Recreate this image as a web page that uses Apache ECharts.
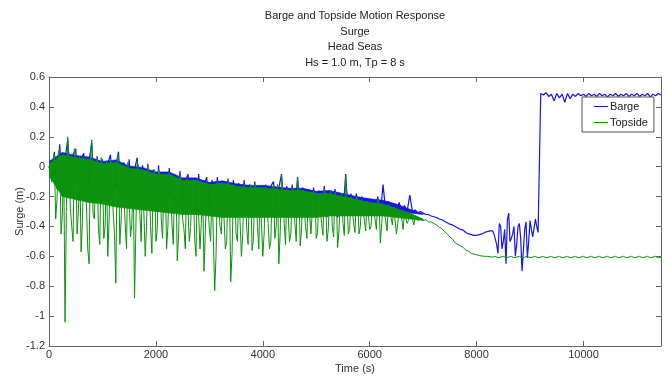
<!DOCTYPE html>
<html>
<head>
<meta charset="utf-8">
<script src="https://cdn.jsdelivr.net/npm/echarts@6/dist/echarts.min.js"></script>
<style>
  html, body { margin: 0; padding: 0; background: #fff; }
  #chart { width: 667px; height: 378px; }
</style>
</head>
<body>
<div id="chart"></div>
<script>
// Surge time histories, sampled every 50 s from t = 0 s to 11450 s
const sampleStep = 50;

const titleLines = [
  'Barge and Topside Motion Response',
  'Surge',
  'Head Seas',
  'Hs = 1.0 m, Tp = 8 s'
];

const seriesNames = ['Barge', 'Topside'];

const barge = [
  0.00, -0.05, 0.10, -0.15, 0.15, -0.20, 0.05, 0.18, -0.18, 0.08,
  0.12, -0.20, 0.05, 0.09, -0.18, 0.04, 0.16, -0.22, 0.07, -0.20,
  0.05, -0.22, 0.02, 0.08, -0.25, 0.00, 0.10, -0.25, 0.03, -0.25,
  0.05, -0.25, -0.02, 0.06, -0.25, 0.01, -0.28, 0.02, -0.28, -0.02,
  -0.28, 0.01, -0.28, -0.05, -0.30, -0.01, -0.30, -0.07, -0.30, -0.03,
  -0.30, -0.10, -0.05, -0.30, -0.09, -0.32, -0.05, -0.30, -0.12, -0.07,
  -0.32, -0.09, -0.30, -0.07, -0.32, -0.11, -0.30, -0.08, -0.32, -0.09,
  -0.32, -0.11, -0.33, -0.09, -0.32, -0.12, -0.33, -0.10, -0.32, -0.13,
  -0.34, -0.12, -0.32, -0.13, -0.10, -0.32, -0.14, -0.05, -0.32, -0.13,
  -0.33, -0.12, -0.32, -0.07, -0.33, -0.14, -0.32, -0.15, -0.33, -0.14,
  -0.34, -0.16, -0.32, -0.13, -0.34, -0.16, -0.33, -0.15, -0.34, -0.18,
  -0.32, -0.05, -0.33, -0.18, -0.33, -0.18, -0.32, -0.20, -0.32, -0.21,
  -0.33, -0.22, -0.31, -0.20, -0.32, -0.12, -0.30, -0.23, -0.30, -0.25,
  -0.30, -0.24, -0.30, -0.26, -0.30, -0.19, -0.30, -0.29, -0.31, -0.30,
  -0.31, -0.32, -0.32, -0.33, -0.335, -0.34, -0.35, -0.355, -0.365, -0.375,
  -0.385, -0.39, -0.40, -0.41, -0.42, -0.425, -0.44, -0.45, -0.455, -0.46,
  -0.46, -0.455, -0.45, -0.44, -0.435, -0.43, -0.43, -0.44, -0.58, -0.40,
  -0.50, -0.65, -0.31, -0.48, -0.40, -0.52, -0.38, -0.70, -0.42, -0.61,
  -0.36, -0.47, -0.35, -0.44, 0.49, 0.48, 0.495, 0.47, 0.485, 0.44,
  0.49, 0.46, 0.485, 0.43, 0.49, 0.455, 0.485, 0.47, 0.49, 0.475,
  0.485, 0.47, 0.49, 0.475, 0.485, 0.47, 0.49, 0.475, 0.485, 0.465,
  0.485, 0.475, 0.49, 0.47, 0.485, 0.475, 0.49, 0.47, 0.485, 0.475,
  0.49, 0.47, 0.485, 0.475, 0.49, 0.465, 0.485, 0.475, 0.49, 0.48
];

// Extra barge samples half-way between the 50 s samples, t = 8325 s to 9125 s
const bargeMidStart = 8325;
const bargeMid = [
  -0.45, -0.52, -0.38, -0.55, -0.42, -0.36, -0.50, -0.45, -0.60,
  -0.40, -0.48, -0.56, -0.37, -0.50, -0.42, -0.46, -0.40
];

const topside = [
  0.00, -0.10, 0.08, -0.22, 0.12, -0.32, -1.04, 0.20, -0.28, -0.50,
  0.10, -0.30, -0.57, 0.06, -0.25, -0.65, 0.18, -0.35, 0.05, -0.52,
  0.02, -0.40, -0.60, 0.05, -0.30, -0.78, 0.08, -0.35, 0.00, -0.55,
  0.02, -0.38, -0.88, 0.04, -0.32, -0.02, -0.60, 0.00, -0.40, -0.05,
  -0.50, -0.02, -0.35, -0.08, -0.55, -0.04, -0.38, -0.10, -0.63, -0.06,
  -0.35, -0.55, -0.08, -0.40, -0.12, -0.60, -0.08, -0.38, -0.70, -0.10,
  -0.42, -0.12, -0.83, -0.10, -0.40, -0.14, -0.55, -0.10, -0.77, -0.12,
  -0.45, -0.14, -0.60, -0.12, -0.42, -0.15, -0.56, -0.12, -0.40, -0.16,
  -0.60, -0.14, -0.38, -0.50, -0.12, -0.40, -0.65, -0.06, -0.38, -0.15,
  -0.50, -0.14, -0.38, -0.08, -0.53, -0.16, -0.40, -0.17, -0.45, -0.16,
  -0.48, -0.18, -0.38, -0.15, -0.50, -0.18, -0.40, -0.17, -0.54, -0.20,
  -0.38, -0.06, -0.45, -0.20, -0.38, -0.20, -0.45, -0.22, -0.36, -0.23,
  -0.42, -0.24, -0.35, -0.22, -0.51, -0.26, -0.36, -0.25, -0.34, -0.27,
  -0.45, -0.30, -0.35, -0.31, -0.38, -0.33, -0.35, -0.34, -0.36, -0.35,
  -0.36, -0.355, -0.37, -0.37, -0.38, -0.39, -0.405, -0.415, -0.435, -0.45,
  -0.47, -0.485, -0.51, -0.52, -0.53, -0.54, -0.56, -0.565, -0.58, -0.585,
  -0.59, -0.595, -0.598, -0.60, -0.60, -0.603, -0.605, -0.60, -0.61, -0.605,
  -0.60, -0.61, -0.605, -0.60, -0.61, -0.605, -0.60, -0.61, -0.605, -0.60,
  -0.61, -0.605, -0.60, -0.61, -0.605, -0.60, -0.61, -0.605, -0.60, -0.61,
  -0.605, -0.60, -0.61, -0.605, -0.60, -0.61, -0.605, -0.60, -0.61, -0.605,
  -0.60, -0.61, -0.605, -0.60, -0.61, -0.605, -0.60, -0.61, -0.605, -0.60,
  -0.61, -0.605, -0.60, -0.61, -0.605, -0.60, -0.61, -0.605, -0.60, -0.61,
  -0.605, -0.60, -0.61, -0.605, -0.60, -0.61, -0.605, -0.60, -0.61, -0.605
];

// Extra topside samples half-way between the 50 s samples, t = 25 s to 6975 s
const topsideMidStart = 25;
const topsideMid = [
  -0.05, 0.05, -0.35, 0.10, -0.45, 0.08, -0.30, 0.06, -0.40, 0.12,
  -0.45, 0.07, -0.38, 0.05, -0.55, 0.09, -0.32, 0.03, -0.42, 0.06,
  -0.48, 0.04, -0.35, 0.02, -0.45, 0.05, -0.52, 0.00, -0.38, 0.03,
  -0.47, -0.02, -0.42, 0.00, -0.50, -0.03, -0.40, -0.05, -0.58, -0.02,
  -0.42, -0.06, -0.48, -0.05, -0.40, -0.08, -0.52, -0.07, -0.45, -0.09,
  -0.42, -0.08, -0.50, -0.10, -0.48, -0.09, -0.55, -0.12, -0.44, -0.11,
  -0.50, -0.12, -0.60, -0.11, -0.45, -0.13, -0.50, -0.12, -0.58, -0.14,
  -0.50, -0.13, -0.45, -0.15, -0.52, -0.12, -0.48, -0.14, -0.55, -0.15,
  -0.45, -0.13, -0.55, -0.16, -0.48, -0.12, -0.45, -0.15, -0.52, -0.14,
  -0.45, -0.16, -0.50, -0.15, -0.42, -0.17, -0.48, -0.16, -0.44, -0.18,
  -0.44, -0.17, -0.46, -0.19, -0.42, -0.16, -0.47, -0.20, -0.43, -0.18,
  -0.46, -0.20, -0.42, -0.21, -0.44, -0.22, -0.40, -0.21, -0.43, -0.23,
  -0.40, -0.25, -0.42, -0.24, -0.38, -0.26, -0.43, -0.27, -0.39, -0.28,
  -0.38, -0.30, -0.42, -0.31, -0.36, -0.33, -0.39, -0.34, -0.36, -0.35
];

// Dense core of the wave-frequency oscillation (upper / lower envelope), every 250 s, 0-7000 s
const envelopeStep = 250;
const bargeCoreHigh = [
  0.035, 0.095, 0.075, 0.065, 0.035, 0.045, 0.005, -0.005, -0.035, -0.035,
  -0.075, -0.075, -0.105, -0.095, -0.115, -0.125, -0.125, -0.135, -0.145, -0.145,
  -0.165, -0.16, -0.18, -0.20, -0.215, -0.225, -0.25, -0.285, -0.315
];
const bargeCoreLow = [
  -0.05, -0.08, -0.10, -0.12, -0.12, -0.14, -0.16, -0.17, -0.19, -0.20,
  -0.22, -0.22, -0.24, -0.24, -0.25, -0.26, -0.26, -0.27, -0.27, -0.28,
  -0.28, -0.28, -0.29, -0.29, -0.30, -0.30, -0.31, -0.31, -0.32
];
const topsideCoreHigh = [
  0.02, 0.08, 0.06, 0.05, 0.02, 0.03, -0.01, -0.02, -0.05, -0.05,
  -0.09, -0.09, -0.12, -0.11, -0.13, -0.14, -0.14, -0.15, -0.16, -0.16,
  -0.18, -0.18, -0.20, -0.22, -0.24, -0.25, -0.28, -0.31, -0.35
];
const topsideCoreLow = [
  -0.06, -0.20, -0.22, -0.24, -0.25, -0.27, -0.28, -0.29, -0.30, -0.31,
  -0.32, -0.32, -0.33, -0.34, -0.34, -0.34, -0.34, -0.34, -0.34, -0.34,
  -0.34, -0.33, -0.33, -0.33, -0.33, -0.33, -0.34, -0.35, -0.36
];

const xRange = [0, 11450];
const yRange = [-1.2, 0.6];

const FONT = '"Liberation Sans", Arial, sans-serif';
const AXIS_COLOR = '#666';
const TEXT_COLOR = '#333';
const BARGE_COLOR = '#1414ee';
const TOPSIDE_COLOR = '#0d920d';

function toPairs(values, step, start) {
  return values.map((v, i) => [start + i * step, v]);
}

// Regular samples plus the in-between samples, in time order
function mergedSamples(values, mid, midStart) {
  return toPairs(values, sampleStep, 0)
    .concat(toPairs(mid, sampleStep, midStart))
    .sort((a, b) => a[0] - b[0]);
}

// Filled strip between a lower and an upper envelope, one quad per interval
function bandSeries(id, low, high, color, z) {
  const rows = low.map((lo, i) => [i * envelopeStep, lo, high[i]]);
  return {
    id: id,
    type: 'custom',
    silent: true,
    z: z,
    clip: true,
    data: rows,
    encode: { x: 0, y: [1, 2] },
    renderItem: function (params, api) {
      const i = params.dataIndex;
      if (i >= rows.length - 1) return null;
      const a = rows[i], b = rows[i + 1];
      const pts = [
        api.coord([a[0], a[2]]),
        api.coord([b[0], b[2]]),
        api.coord([b[0], b[1]]),
        api.coord([a[0], a[1]])
      ];
      return {
        type: 'polygon',
        shape: { points: pts },
        style: { fill: color, stroke: color, lineWidth: 0.6 }
      };
    }
  };
}

const plotCenterX = 355;

const chart = echarts.init(document.getElementById('chart'), null, { renderer: 'canvas' });

const boxAxisX = {
  type: 'value',
  min: xRange[0],
  max: xRange[1],
  interval: 2000,
  splitLine: { show: false },
  axisLine: { show: true, onZero: false, lineStyle: { color: AXIS_COLOR, width: 1 } },
  axisTick: { show: true, inside: true, length: 5, lineStyle: { color: AXIS_COLOR } }
};

const boxAxisY = {
  type: 'value',
  min: yRange[0],
  max: yRange[1],
  interval: 0.2,
  splitLine: { show: false },
  axisLine: { show: true, onZero: false, lineStyle: { color: AXIS_COLOR, width: 1 } },
  axisTick: { show: true, inside: true, length: 5, lineStyle: { color: AXIS_COLOR } }
};

chart.setOption({
  animation: false,
  backgroundColor: '#fff',
  textStyle: { fontFamily: FONT },
  grid: { left: 49, right: 6, top: 77, bottom: 32, containLabel: false, outerBoundsMode: 'none' },
  graphic: titleLines.map((line, i) => ({
    type: 'text',
    x: plotCenterX,
    y: 16 + i * 15.6,
    style: {
      text: line,
      font: '11px ' + FONT,
      fill: '#222',
      textAlign: 'center',
      textVerticalAlign: 'middle'
    }
  })),
  legend: {
    data: seriesNames,
    orient: 'vertical',
    left: 582,
    top: 97,
    padding: [4, 6, 4, 12],
    itemGap: 5,
    itemWidth: 14,
    itemHeight: 1,
    icon: 'rect',
    borderColor: '#555',
    borderWidth: 1,
    backgroundColor: '#fff',
    textStyle: { fontSize: 11, color: '#222', fontFamily: FONT, padding: [0, 0, 0, -3] }
  },
  xAxis: [
    Object.assign({}, boxAxisX, {
      position: 'bottom',
      name: 'Time (s)',
      nameLocation: 'middle',
      nameGap: 17,
      nameMoveOverlap: false,
      nameTextStyle: { fontSize: 11, color: TEXT_COLOR, fontFamily: FONT },
      axisLabel: {
        show: true, fontSize: 11, color: TEXT_COLOR, margin: 3, fontFamily: FONT,
        showMaxLabel: false,
        formatter: v => String(v)
      }
    }),
    Object.assign({}, boxAxisX, {
      position: 'top',
      axisLabel: { show: false }
    })
  ],
  yAxis: [
    Object.assign({}, boxAxisY, {
      position: 'left',
      name: 'Surge (m)',
      nameLocation: 'middle',
      nameGap: 24,
      nameMoveOverlap: false,
      nameTextStyle: { fontSize: 11, color: TEXT_COLOR, fontFamily: FONT },
      axisLabel: {
        show: true,
        fontSize: 11,
        color: TEXT_COLOR,
        margin: 4,
        fontFamily: FONT,
        formatter: v => String(Math.round(v * 10) / 10)
      }
    }),
    Object.assign({}, boxAxisY, {
      position: 'right',
      axisLabel: { show: false }
    })
  ],
  series: [
    bandSeries('bargeCore', bargeCoreLow, bargeCoreHigh, BARGE_COLOR, 1),
    {
      name: seriesNames[0],
      type: 'line',
      data: mergedSamples(barge, bargeMid, bargeMidStart),
      showSymbol: false,
      symbol: 'none',
      sampling: null,
      lineStyle: { color: BARGE_COLOR, width: 1.2 },
      itemStyle: { color: BARGE_COLOR },
      z: 2
    },
    bandSeries('topsideCore', topsideCoreLow, topsideCoreHigh, TOPSIDE_COLOR, 3),
    {
      name: seriesNames[1],
      type: 'line',
      data: mergedSamples(topside, topsideMid, topsideMidStart),
      showSymbol: false,
      symbol: 'none',
      sampling: null,
      lineStyle: { color: TOPSIDE_COLOR, width: 1 },
      itemStyle: { color: TOPSIDE_COLOR },
      z: 4
    }
  ]
});
</script>
</body>
</html>
